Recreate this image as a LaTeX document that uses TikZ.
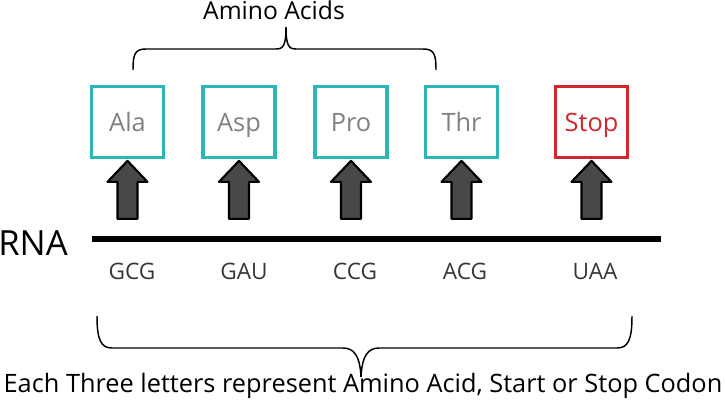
\documentclass[tikz,border=0pt]{standalone}
\usepackage{fontspec}
\setmainfont{Open Sans}
\usetikzlibrary{calc}
\definecolor{teal1}{RGB}{43,183,183}
\definecolor{red1}{RGB}{208,38,46}
\definecolor{gtext}{RGB}{128,128,128}
\definecolor{afill}{RGB}{72,72,72}
\definecolor{ctext}{RGB}{55,55,55}
\tikzset{
  acid/.style={draw=teal1, line width=2.3pt, minimum width=54pt, minimum height=53pt, inner sep=0pt, text height=13.5pt, text depth=0pt, text=gtext, font=\fontsize{19}{22}\selectfont},
  stopbox/.style={acid, draw=red1, text=red1},
  codon/.style={text=ctext, font=\fontsize{17}{20}\selectfont, inner sep=0pt, anchor=base},
  fatarrow/.style={draw=black, fill=afill, line width=1.6pt, line join=round},
  bracel/.style={draw=black, line width=1.1pt},
}
\begin{document}
\begin{tikzpicture}[x=0.75pt, y=-0.75pt]
\useasboundingbox (0,0) rectangle (725,400);
% boxes
\node[acid] (ala) at (127.5,122) {Ala};
\node[acid] (asp) at (239,122) {Asp};
\node[acid] (pro) at (351,122) {Pro};
\node[acid] (thr) at (461.5,122) {Thr};
\node[stopbox] (stop) at (591.5,122) {Stop};
% RNA line
\node[font=\fontsize{26}{30}\selectfont, inner sep=0pt, anchor=base west] (rna) at (-2,255) {RNA};
\coordinate (l0) at (92,239);
\coordinate (l1) at (661,239);
\draw[line width=4.5pt] (l0) -- (l1);
% codons
\node[codon] (c1) at (132,279) {GCG};
\node[codon] (c2) at (244,279) {GAU};
\node[codon] (c3) at (355,279) {CCG};
\node[codon] (c4) at (465,279) {ACG};
\node[codon] (c5) at (595,279) {UAA};
% fat arrows
\foreach \b in {ala,asp,pro,thr,stop}{
  \draw[fatarrow] ($(\b.south)+(0,2)$) -- ++(20,21) -- ++(-10,0) -- ++(0,37) -- ++(-20,0) -- ++(0,-37) -- ++(-10,0) -- cycle;
}
% top brace
\coordinate (tb) at (286,27);
\node[font=\fontsize{18.5}{22}\selectfont, inner sep=0pt, anchor=base] (aa) at (274,19) {Amino Acids};
\draw[bracel] (133,70) .. controls (133,54) and (135,49) .. (146,49) -- (276,49) .. controls (283,49) and (286,46) .. (tb);
\draw[bracel] (436,70) .. controls (436,54) and (434,49) .. (423,49) -- (296,49) .. controls (289,49) and (286,46) .. (tb);
% bottom brace
\coordinate (bb) at (361,377);
\node[font=\fontsize{19}{22}\selectfont, inner sep=0pt, anchor=base] (txt) at (363,392) {Each Three letters represent Amino Acid, Start or Stop Codon};
\draw[bracel] (97,316) .. controls (97,340) and (101,348) .. (112,348) -- (343,348) .. controls (354,348) and (360,356) .. (bb);
\draw[bracel] (632,316) .. controls (632,340) and (628,348) .. (617,348) -- (379,348) .. controls (368,348) and (362,356) .. (bb);
\end{tikzpicture}
\end{document}
